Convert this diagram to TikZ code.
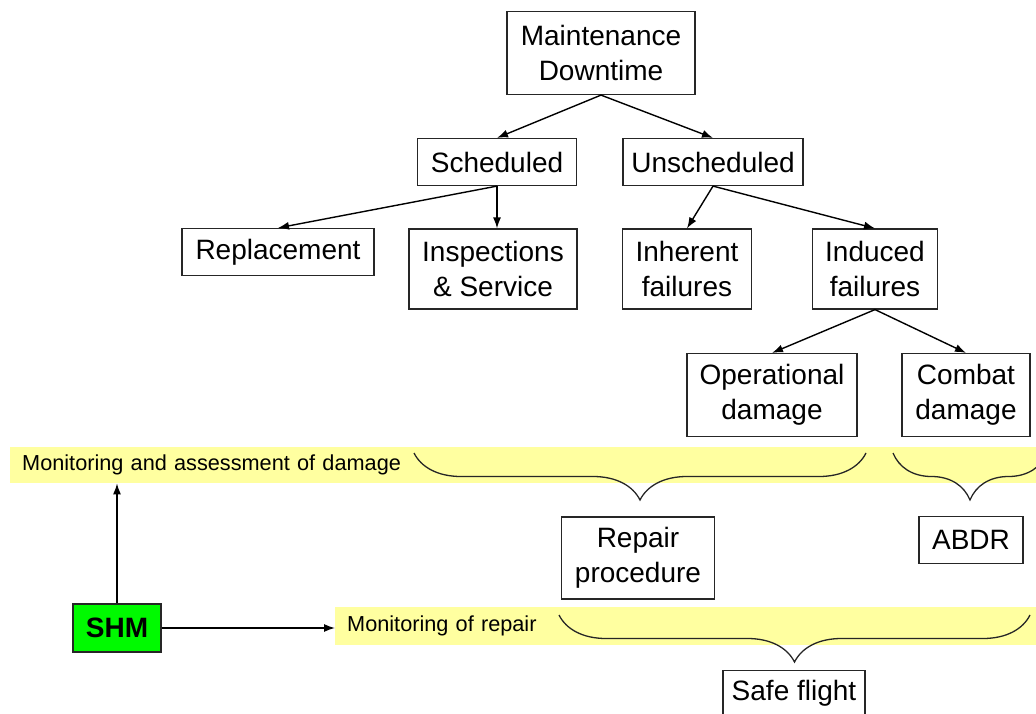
\documentclass[tikz,border=0pt]{standalone}
\usepackage{fontspec}
\setmainfont{Liberation Sans}
\usepackage{tikz}
\usetikzlibrary{shapes}
\usetikzlibrary{arrows.meta}
\usetikzlibrary{decorations.pathreplacing}
\definecolor{bandyellow}{RGB}{255,255,160}
\definecolor{shmgreen}{RGB}{0,250,0}
\begin{document}
\begin{tikzpicture}[x=1pt,y=-1pt]
\tikzstyle{every node}=[inner sep=0pt,align=center,font=\fontsize{28}{35}\selectfont]
\tikzstyle{box}=[draw=black!85,line width=1.2pt,fill=white]
\tikzstyle{band}=[fill=bandyellow,anchor=north west,align=left,inner xsep=12pt,
font=\fontsize{21.7}{26}\selectfont]
\tikzstyle{arr}=[line width=1.4pt,-{Latex[length=11pt,width=8pt]}]
\tikzstyle{brace}=[decorate,decoration={brace,mirror,amplitude=47pt},line width=1.3pt,black!85]
\useasboundingbox (0,0) rectangle (1036,714);
% tree of downtime
\node[box,minimum width=188,minimum height=83] (md) at (601,53) {Maintenance\\Downtime};
\node[box,minimum width=159,minimum height=47] (sch) at (497,162) {Scheduled};
\node[box,minimum width=180,minimum height=47] (uns) at (713,162) {Unscheduled};
\node[box,minimum width=192,minimum height=47] (rep) at (278,252) {Replacement};
\node[box,minimum width=168,minimum height=80] (ins) at (493,269) {Inspections\\\& Service};
\node[box,minimum width=129,minimum height=80] (inh) at (687,269) {Inherent\\failures};
\node[box,minimum width=125,minimum height=80] (ind) at (875,269) {Induced\\failures};
\node[box,minimum width=170,minimum height=83] (op) at (772,395) {Operational\\damage};
\node[box,minimum width=128,minimum height=83] (cb) at (966,395) {Combat\\damage};
\draw[arr] (md.south) -- (sch.north);
\draw[arr] (md.south) -- (uns.north);
\draw[arr] (sch.south) -- (rep.north);
\draw[arr] (sch.south) -- (sch.south |- ins.north);
\draw[arr] (uns.south) -- (inh.north);
\draw[arr] (uns.south) -- (ind.north);
\draw[arr] (ind.south) -- (op.north);
\draw[arr] (ind.south) -- (cb.north);
% monitoring bands
\node[band,minimum width=1040,minimum height=36,text width=1016] (dmg) at (10,447)
{Monitoring and assessment of damage};
\node[band,minimum width=715,minimum height=38,text width=691] (mrep) at (335,607)
{Monitoring of repair};
\draw[brace] (414,453) -- (866,453);
\draw[brace] (893,453) -- (1047,453);
\draw[brace] (559,615) -- (1030,615);
\node[box,minimum width=153,minimum height=82] (rp) at (638,558) {Repair\\procedure};
\node[box,minimum width=104,minimum height=47] (abdr) at (971,540) {ABDR};
\node[box,minimum width=142,minimum height=46,anchor=north] (sf) at (794,670) {Safe flight};
% SHM
\node[box,fill=shmgreen,minimum width=88,minimum height=48,
font=\fontsize{28}{33}\bfseries\selectfont] (shm) at (117,628) {SHM};
\draw[arr] (shm.north) -- (shm.north |- dmg.south);
\draw[arr] (shm.east) -- (shm.east -| mrep.west);
\end{tikzpicture}
\end{document}
